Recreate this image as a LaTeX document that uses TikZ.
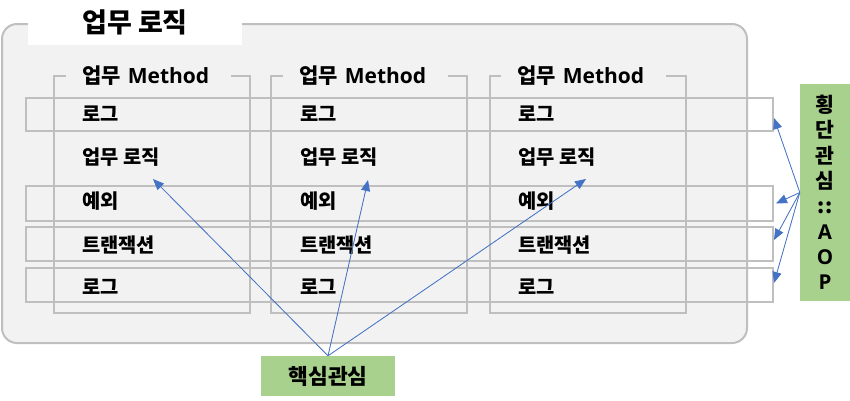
\documentclass[tikz,border=0pt]{standalone}
\usepackage{fontspec}
\setmainfont{Noto Sans CJK KR}
\newfontfamily\lat{Open Sans}
\usetikzlibrary{arrows.meta,calc}
\definecolor{bg}{HTML}{F2F2F2}
\definecolor{ln}{HTML}{BFBFBF}
\definecolor{grn}{HTML}{A9D18E}
\definecolor{arr}{HTML}{4472C4}
\begin{document}
\begin{tikzpicture}[x=1pt,y=-1pt,
  frame/.style={draw=ln, line width=2pt, inner sep=0pt},
  rowbox/.style={frame, minimum width=747pt},
  colbox/.style={frame, minimum width=196pt, minimum height=237pt},
  collabel/.style={fill=bg, inner sep=0pt, minimum height=18pt, text width=133pt, inner xsep=16pt, align=left, anchor=west, font=\fontsize{21}{23}\selectfont\bfseries},
  itemtext/.style={anchor=west, inner sep=0pt, font=\fontsize{19.8}{22}\selectfont\bfseries},
  greenbox/.style={fill=grn, inner sep=0pt, font=\fontsize{20.5}{25.3}\selectfont\bfseries, align=center},
  conn/.style={draw=arr, line width=0.8pt, -{Triangle[length=11pt,width=9pt]}, fill=arr}
]
\useasboundingbox (0,0) rectangle (850,400);
% outer container
\node[draw=ln, line width=2pt, fill=bg, rounded corners=15pt, minimum width=745pt, minimum height=319pt, inner sep=0pt] (outer) at (374.5,183.5) {};
\node[fill=white, minimum width=214pt, minimum height=45pt, inner sep=0pt, font=\fontsize{27}{29}\selectfont\bfseries] (title) at (135,22.5) {업무 로직};
% columns
\node[colbox] (col1) at (152,194.5) {};
\node[colbox] (col2) at (369,194.5) {};
\node[colbox] (col3) at (587.5,194.5) {};
% rows
\node[rowbox, minimum height=33pt] (row1) at (399.5,114.5) {};
\node[rowbox, minimum height=35pt] (row2) at (399.5,203.5) {};
\node[rowbox, minimum height=34pt] (row3) at (399.5,244) {};
\node[rowbox, minimum height=34pt] (row4) at (399.5,285) {};
% column labels
\node[collabel] (m1) at (66,76) {업무 {\lat Method}};
\node[collabel] (m2) at (283,76) {업무 {\lat Method}};
\node[collabel] (m3) at (501,76) {업무 {\lat Method}};
% texts
\foreach \c/\x in {1/82,2/300,3/518}{
  \node[itemtext] (log\c) at (\x,114) {로그};
  \node[itemtext] (biz\c) at (\x,157) {업무 로직};
  \node[itemtext] (exc\c) at (\x,201) {예외};
  \node[itemtext] (trx\c) at (\x,245) {트랜잭션};
  \node[itemtext] (logb\c) at (\x,287) {로그};
}
% green boxes
\node[greenbox, minimum width=50pt, minimum height=217pt] (aop) at (825,192.5) {횡\\단\\관\\심\\::\\{\lat A}\\{\lat O}\\{\lat P}};
\node[greenbox, font=\fontsize{21.5}{23}\selectfont\bfseries, minimum width=134pt, minimum height=40pt] (core) at (328,376) {핵심관심};
% arrow targets
\coordinate (t1) at (153,179);
\coordinate (t2) at (368,180);
\coordinate (t3) at (586,179);
% connectors
\draw[conn] (core.north) -- (t1);
\draw[conn] (core.north) -- (t2);
\draw[conn] (core.north) -- (t3);
\draw[conn] (aop.west) -- ([yshift=-3.5pt]row1.east);
\draw[conn] (aop.west) -- ([xshift=2pt]row2.east);
\draw[conn] (aop.west) -- ([yshift=4pt]row3.east);
\draw[conn] (aop.west) -- ([yshift=2pt]row4.east);
\end{tikzpicture}
\end{document}
